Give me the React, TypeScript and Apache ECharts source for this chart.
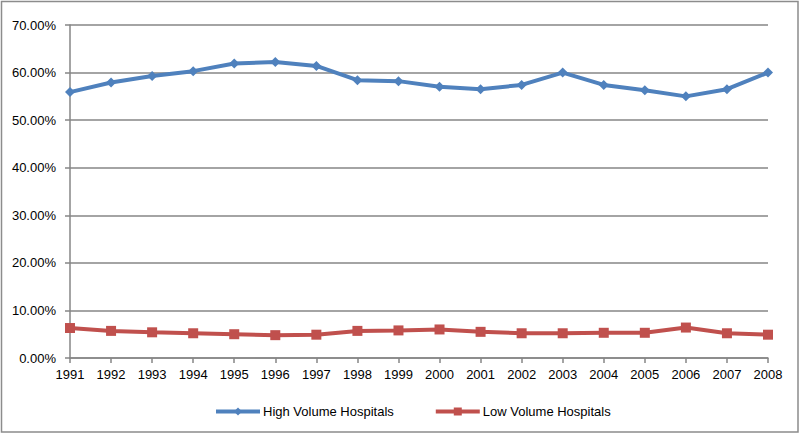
import React, { useEffect, useRef } from "react";
import * as echarts from "echarts";

const years = ["1991","1992","1993","1994","1995","1996","1997","1998","1999","2000","2001","2002","2003","2004","2005","2006","2007","2008"];
const highVolume = [55.9, 57.9, 59.3, 60.3, 61.9, 62.2, 61.4, 58.4, 58.2, 57.0, 56.5, 57.4, 60.0, 57.4, 56.3, 55.0, 56.5, 60.0];
const lowVolume = [6.3, 5.7, 5.4, 5.2, 5.0, 4.8, 4.9, 5.7, 5.8, 6.0, 5.5, 5.2, 5.2, 5.3, 5.3, 6.4, 5.2, 4.9];
const seriesNames = ["High Volume Hospitals", "Low Volume Hospitals"];

const FONT = "'Liberation Sans', Arial, sans-serif";

export default function App() {
  const ref = useRef<HTMLDivElement>(null);
  useEffect(() => {
    if (!ref.current) return;
    const chart = echarts.init(ref.current, null, { renderer: "svg" });
    chart.setOption({
      animation: false,
      backgroundColor: "#ffffff",
      textStyle: { fontFamily: FONT },
      graphic: [
        {
          type: "rect",
          shape: { x: 1.5, y: 1.5, width: 796.5, height: 430.5 },
          style: { fill: "none", stroke: "#8c8c8c", lineWidth: 1.5 },
          silent: true,
        },
      ],
      grid: { left: 70, right: 32, top: 25, bottom: 76, containLabel: false },
      legend: {
        data: seriesNames,
        top: 405,
        left: 214,
        padding: 0,
        itemWidth: 44,
        itemHeight: 10,
        itemGap: 40,
        lineStyle: { width: 4 },
        textStyle: { fontFamily: FONT, fontSize: 13, color: "#000", padding: [0, 0, 0, -2] },
      },
      xAxis: {
        type: "category",
        data: years,
        boundaryGap: false,
        axisLine: { lineStyle: { color: "#868686", width: 1.5 } },
        axisTick: { show: true, length: 5, alignWithLabel: true, lineStyle: { color: "#868686", width: 1.5 } },
        axisLabel: { color: "#000", fontSize: 13, fontFamily: FONT, margin: 10, interval: 0 },
        splitLine: { show: false },
      },
      yAxis: {
        type: "value",
        min: 0,
        max: 70,
        interval: 10,
        axisLine: { show: true, lineStyle: { color: "#868686", width: 1.5 } },
        axisTick: { show: true, length: 5, lineStyle: { color: "#868686", width: 1.5 } },
        axisLabel: {
          color: "#000",
          fontSize: 13,
          fontFamily: FONT,
          margin: 14,
          formatter: (v: number) => v.toFixed(2) + "%",
        },
        splitLine: { show: true, lineStyle: { color: "#868686", width: 1.5 } },
      },
      series: [
        {
          name: seriesNames[0],
          type: "line",
          data: highVolume,
          symbol: "diamond",
          symbolSize: 10,
          lineStyle: { color: "#4F81BD", width: 4 },
          itemStyle: { color: "#4F81BD" },
        },
        {
          name: seriesNames[1],
          type: "line",
          data: lowVolume,
          symbol: "rect",
          symbolSize: 10,
          lineStyle: { color: "#C0504D", width: 4 },
          itemStyle: { color: "#C0504D" },
        },
      ],
    });
    return () => chart.dispose();
  }, []);
  return (
    <div
      ref={ref}
      style={{ position: "fixed", left: 0, top: 0, width: 800, height: 434 }}
    />
  );
}
